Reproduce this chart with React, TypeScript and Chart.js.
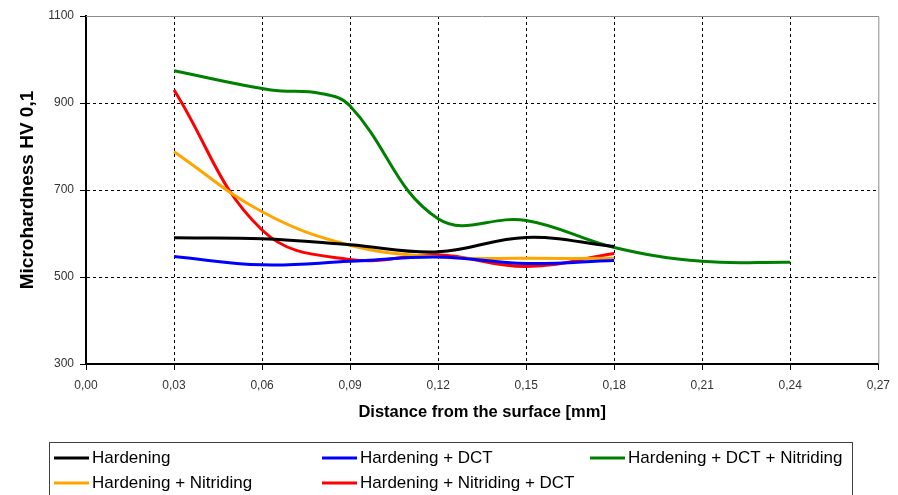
import React, { useEffect, useRef } from 'react';
import { Chart, registerables } from 'chart.js';

Chart.register(...registerables);

const FONT = "'Liberation Sans', Arial, sans-serif";

// Series names and colours
const seriesNames = [
  'Hardening',
  'Hardening + DCT',
  'Hardening + DCT + Nitriding',
  'Hardening + Nitriding',
  'Hardening + Nitriding + DCT',
];
const seriesColors = ['#000000', '#0000FF', '#008000', '#FFA500', '#FF0000'];

// Distances from the surface [mm]
const depthMain = [0.03, 0.06, 0.09, 0.12, 0.15, 0.18];
const depthGreen = [0.03, 0.063, 0.08, 0.09, 0.12, 0.15, 0.18, 0.21, 0.24];

// Microhardness HV 0,1
const hardening = [590, 588, 574, 558, 591, 570];
const hardeningDct = [547, 528, 536, 546, 531, 538];
const hardeningDctNitriding = [974, 930, 922, 893, 634, 630, 568, 536, 534];
const hardeningNitriding = [788, 650, 573, 546, 543, 543];
const hardeningNitridingDct = [930, 608, 540, 551, 524, 554];

// Axis ranges / ticks
const xMin = 0;
const xMax = 0.27;
const xStep = 0.03;
const yMin = 300;
const yMax = 1100;
const yStep = 200;

const seriesX = [depthMain, depthMain, depthGreen, depthMain, depthMain];
const seriesY = [hardening, hardeningDct, hardeningDctNitriding, hardeningNitriding, hardeningNitridingDct];

// legend grid placement: [column, row]
const legendPlace = [
  [0, 0],
  [1, 0],
  [2, 0],
  [0, 1],
  [1, 1],
];

const framePlugin = {
  id: 'frame',
  beforeDatasetsDraw(chart: any) {
    const { ctx, chartArea } = chart;
    ctx.save();
    ctx.strokeStyle = '#8c8c8c';
    ctx.lineWidth = 1;
    ctx.beginPath();
    ctx.moveTo(chartArea.left, chartArea.top + 0.5);
    ctx.lineTo(chartArea.right + 0.5, chartArea.top + 0.5);
    ctx.lineTo(chartArea.right + 0.5, chartArea.bottom);
    ctx.stroke();
    ctx.restore();
  },
};

const boxLegendPlugin = {
  id: 'boxLegend',
  afterDraw(chart: any) {
    const { ctx } = chart;
    ctx.save();
    ctx.strokeStyle = '#404040';
    ctx.lineWidth = 1;
    ctx.strokeRect(49.5, 442.5, 803, 80);
    const colX = [54, 322, 590];
    const rowY = [458, 483];
    ctx.font = `17px ${FONT}`;
    ctx.textBaseline = 'middle';
    ctx.textAlign = 'left';
    chart.data.datasets.forEach((ds: any, i: number) => {
      const [c, r] = legendPlace[i];
      const x = colX[c];
      const y = rowY[r];
      ctx.strokeStyle = ds.borderColor;
      ctx.lineWidth = 3;
      ctx.beginPath();
      ctx.moveTo(x, y);
      ctx.lineTo(x + 35, y);
      ctx.stroke();
      ctx.fillStyle = '#000';
      ctx.fillText(ds.label, x + 38, y);
    });
    ctx.restore();
  },
};

const near = (a: number, b: number) => Math.abs(a - b) < 1e-9;

export default function App() {
  const ref = useRef<HTMLCanvasElement>(null);

  useEffect(() => {
    if (!ref.current) return;
    const datasets = seriesNames.map((name, i) => ({
      label: name,
      data: seriesX[i].map((x, j) => ({ x, y: seriesY[i][j] })),
      borderColor: seriesColors[i],
      backgroundColor: seriesColors[i],
      borderWidth: 3,
      pointRadius: 0,
      tension: 0.4,
      fill: false,
    }));

    const chart = new Chart(ref.current, {
      type: 'line',
      data: { datasets },
      plugins: [framePlugin, boxLegendPlugin],
      options: {
        responsive: false,
        animation: false,
        layout: { padding: { left: 0, right: 16, top: 16, bottom: 70 } },
        plugins: {
          legend: { display: false },
          tooltip: { enabled: false },
        },
        scales: {
          x: {
            type: 'linear',
            min: xMin,
            max: xMax,
            afterFit: (s: any) => {
              s.height = 61;
            },
            ticks: {
              stepSize: xStep,
              autoSkip: false,
              maxRotation: 0,
              padding: 8,
              color: '#333',
              font: { family: FONT, size: 12 },
              callback: (v: any) => Number(v).toFixed(2).replace('.', ','),
            },
            grid: {
              color: (c: any) =>
                c.tick && (near(c.tick.value, xMin) || near(c.tick.value, xMax)) ? 'rgba(0,0,0,0)' : '#000',
              tickColor: '#000',
              tickLength: 6,
              lineWidth: 1,
              tickBorderDash: [],
            },
            border: { display: true, color: '#000', width: 2, dash: [3, 3] },
            title: {
              display: true,
              text: 'Distance from the surface [mm]',
              color: '#000',
              font: { family: FONT, size: 16.5, weight: 'bold', lineHeight: 1.2 },
              padding: { top: 0, bottom: 3 },
            },
          },
          y: {
            type: 'linear',
            min: yMin,
            max: yMax,
            afterFit: (s: any) => {
              s.width = 86;
            },
            ticks: {
              stepSize: yStep,
              padding: 6,
              color: '#333',
              font: { family: FONT, size: 12 },
              callback: (v: any) => String(v),
            },
            grid: {
              color: (c: any) =>
                c.tick && (near(c.tick.value, yMin) || near(c.tick.value, yMax)) ? 'rgba(0,0,0,0)' : '#000',
              tickColor: '#000',
              tickLength: 6,
              lineWidth: 1,
              tickBorderDash: [],
            },
            border: { display: true, color: '#000', width: 2, dash: [3, 3] },
            title: {
              display: true,
              text: 'Microhardness HV 0,1',
              color: '#000',
              font: { family: FONT, size: 19, weight: 'bold', lineHeight: 1 },
              padding: { top: 18.5, bottom: 0 },
            },
          },
        },
      } as any,
    });
    return () => chart.destroy();
  }, []);

  return (
    <div style={{ position: 'absolute', left: 0, top: 0, width: 898, height: 495, background: '#fff' }}>
      <canvas ref={ref} width={898} height={495} style={{ display: 'block' }} />
    </div>
  );
}
